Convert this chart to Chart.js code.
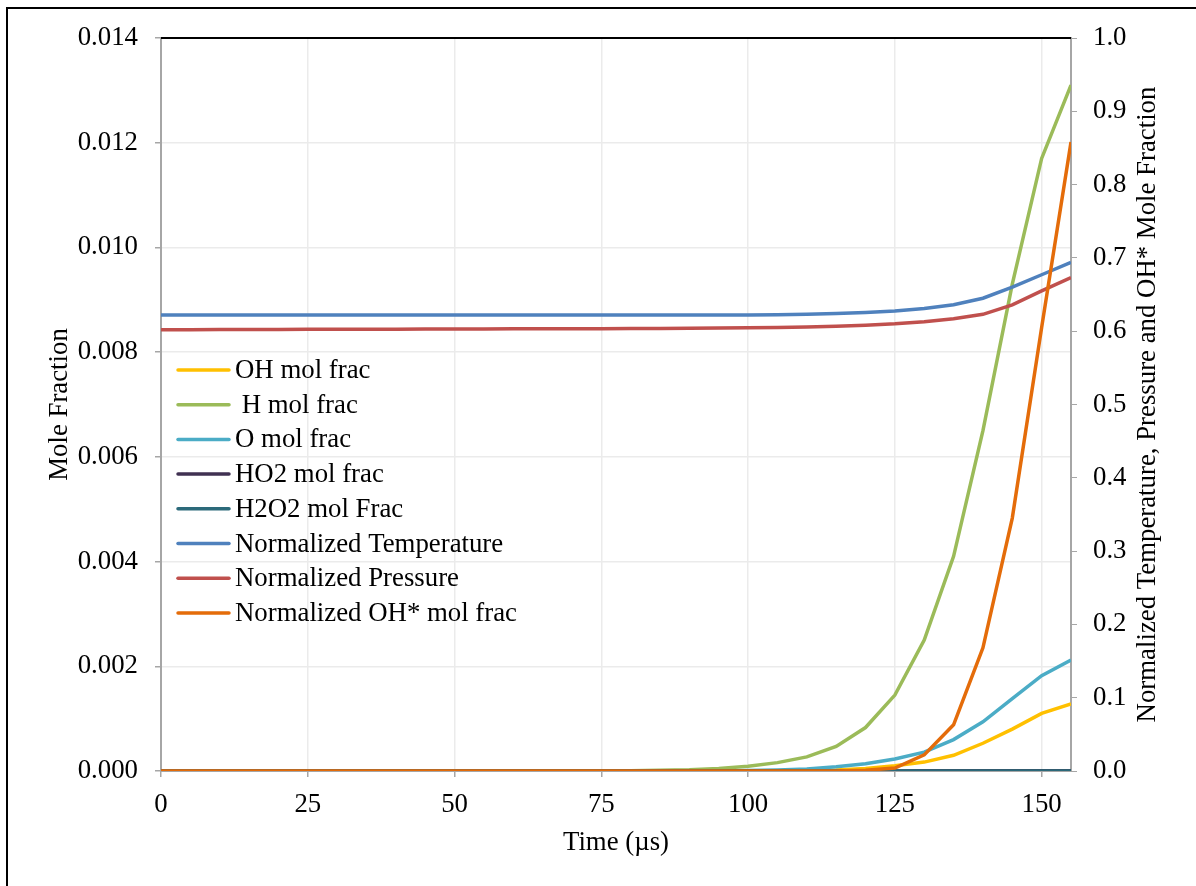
<!DOCTYPE html>
<html>
<head>
<meta charset="utf-8">
<title>Mole Fraction vs Time</title>
<script src="https://cdn.jsdelivr.net/npm/chart.js@4.4.1/dist/chart.umd.min.js"></script>
<style>
    html, body { margin: 0; padding: 0; background: #fff; }
    #grafico { display: block; }
</style>
</head>
<body>
<canvas id="grafico" width="1196" height="886"></canvas>
<script>
// Tempo (µs)
const times = [0, 5, 10, 15, 20, 25, 30, 35, 40, 45, 50, 55, 60, 65, 70, 75,
               80, 85, 90, 95, 100, 105, 110, 115, 120, 125, 130, 135, 140, 145, 150, 155];

// Fracoes molares (eixo esquerdo)
const ohFrac = [0, 0, 0, 0, 0, 0, 0, 0, 0, 0, 0, 0, 0, 0, 0, 0,
                0, 0, 0, 0, 0.000002, 0.000005, 0.00001, 0.00002, 0.00005, 0.0001, 0.00017, 0.0003, 0.00053, 0.0008, 0.0011, 0.00128];
const hFrac = [0, 0, 0, 0, 0, 0, 0, 0, 0, 0, 0, 0, 0, 0, 0.000002, 0.000004,
               0.000007, 0.000013, 0.000025, 0.00005, 0.00009, 0.00016, 0.00027, 0.00047, 0.00083, 0.00145, 0.0025, 0.0041, 0.0065, 0.0093, 0.0117, 0.0131];
const oFrac = [0, 0, 0, 0, 0, 0, 0, 0, 0, 0, 0, 0, 0, 0, 0, 0,
               0, 0, 0, 0, 0.00001, 0.00002, 0.00004, 0.00008, 0.00014, 0.00023, 0.00036, 0.0006, 0.00094, 0.00138, 0.00182, 0.00212];
const ho2Frac = [0.000001, 0.000001, 0.000001, 0.000001, 0.000001, 0.000001, 0.000001, 0.000001, 0.000001, 0.000001, 0.000001, 0.000001, 0.000001, 0.000001, 0.000001, 0.000001,
                 0.000001, 0.000001, 0.000001, 0.000001, 0.000001, 0.000001, 0.000001, 0.000002, 0.000002, 0.000002, 0.000003, 0.000003, 0.000003, 0.000004, 0.000004, 0.000004];
const h2o2Frac = [0, 0, 0, 0, 0, 0, 0, 0, 0, 0, 0, 0, 0, 0, 0, 0,
                  0, 0, 0, 0, 0, 0, 0, 0, 0, 0, 0, 0, 0, 0, 0, 0];

// Valores normalizados (eixo direito)
const tempNorm = [0.622, 0.622, 0.622, 0.622, 0.622, 0.622, 0.622, 0.622, 0.622, 0.622, 0.622, 0.622, 0.622, 0.622, 0.622, 0.622,
                  0.622, 0.622, 0.622, 0.622, 0.6222, 0.6225, 0.623, 0.624, 0.6255, 0.6275, 0.631, 0.636, 0.645, 0.66, 0.677, 0.694];
const presNorm = [0.602, 0.6021, 0.6022, 0.6023, 0.6024, 0.6025, 0.6026, 0.6027, 0.6028, 0.6029, 0.603, 0.6031, 0.6032, 0.6033, 0.6034, 0.6035,
                  0.6036, 0.6038, 0.604, 0.6043, 0.6047, 0.6052, 0.6058, 0.6067, 0.608, 0.61, 0.613, 0.617, 0.623, 0.636, 0.655, 0.673];
const ohStarNorm = [0, 0, 0, 0, 0, 0, 0, 0, 0, 0, 0, 0, 0, 0, 0, 0,
                    0, 0, 0, 0, 0, 0, 0, 0, 0.001, 0.004, 0.022, 0.063, 0.168, 0.345, 0.605, 0.858];

// Ticks dos eixos
const xTicks = [0, 25, 50, 75, 100, 125, 150];
const leftTicks = [0, 0.002, 0.004, 0.006, 0.008, 0.010, 0.012, 0.014];
const rightTicks = [0, 0.1, 0.2, 0.3, 0.4, 0.5, 0.6, 0.7, 0.8, 0.9, 1.0];

const FONTE = '"Liberation Serif", "Times New Roman", serif';
const TAM = 26.8;
const CINZA_EIXO = '#a6a6a6';

function serie(label, valores, cor, eixo) {
    return {
        label: label,
        data: valores.map((v, i) => ({ x: times[i], y: v })),
        borderColor: cor,
        backgroundColor: cor,
        borderWidth: 3.5,
        pointRadius: 0,
        tension: 0,
        yAxisID: eixo
    };
}

const datasets = [
    serie('OH mol frac', ohFrac, '#FFC000', 'yEsq'),
    serie(' H mol frac', hFrac, '#9BBB59', 'yEsq'),
    serie('O mol frac', oFrac, '#4BACC6', 'yEsq'),
    serie('HO2 mol frac', ho2Frac, '#403152', 'yEsq'),
    serie('H2O2 mol Frac', h2o2Frac, '#2C6A7A', 'yEsq'),
    serie('Normalized Temperature', tempNorm, '#4F81BD', 'yDir'),
    serie('Normalized Pressure', presNorm, '#C0504D', 'yDir'),
    serie('Normalized OH* mol frac', ohStarNorm, '#E46C0A', 'yDir')
];
// ultima serie desenhada por cima
datasets.forEach((ds, i) => { ds.order = datasets.length - i; });

function fixarTicks(valores) {
    return function (scale) {
        scale.ticks = valores.map(v => ({ value: v }));
    };
}

// Moldura, titulos dos eixos e legenda dentro da area do grafico
const extras = {
    id: 'extras',
    afterDraw(chart) {
        const ctx = chart.ctx;
        const a = chart.chartArea;
        ctx.save();

        // moldura externa
        ctx.strokeStyle = '#000';
        ctx.lineWidth = 2;
        ctx.beginPath();
        ctx.moveTo(7, 886);
        ctx.lineTo(7, 8);
        ctx.lineTo(1196, 8);
        ctx.stroke();

        // borda superior da area do grafico
        ctx.beginPath();
        ctx.moveTo(a.left, a.top);
        ctx.lineTo(a.right, a.top);
        ctx.stroke();

        ctx.fillStyle = '#000';
        ctx.font = TAM + 'px ' + FONTE;
        ctx.textAlign = 'center';
        ctx.textBaseline = 'middle';

        const meioY = (a.top + a.bottom) / 2;
        ctx.save();
        ctx.translate(a.left - 101, meioY);
        ctx.rotate(-Math.PI / 2);
        ctx.fillText('Mole Fraction', 0, 0);
        ctx.restore();

        ctx.save();
        ctx.translate(a.right + 77, meioY);
        ctx.rotate(-Math.PI / 2);
        ctx.fillText('Normalized Temperature, Pressure and OH* Mole Fraction', 0, 0);
        ctx.restore();

        ctx.fillText('Time (\u00b5s)', (a.left + a.right) / 2, a.bottom + 72);

        // legenda
        ctx.textAlign = 'left';
        const x0 = a.left + 16;
        const y0 = a.top + 332;
        chart.data.datasets.forEach((ds, i) => {
            const y = y0 + i * 34.7;
            ctx.strokeStyle = ds.borderColor;
            ctx.lineWidth = 3.5;
            ctx.lineCap = 'round';
            ctx.beginPath();
            ctx.moveTo(x0 + 1, y);
            ctx.lineTo(x0 + 52, y);
            ctx.stroke();
            ctx.fillText(ds.label, x0 + 58, y + 1);
        });

        ctx.restore();
    }
};

const ctx = document.getElementById('grafico').getContext('2d');
new Chart(ctx, {
    type: 'line',
    data: { datasets: datasets },
    plugins: [extras],
    options: {
        responsive: false,
        animation: false,
        devicePixelRatio: 1,
        layout: { padding: { top: 38, left: 0, right: 0, bottom: 0 } },
        plugins: {
            legend: { display: false },
            tooltip: { enabled: false }
        },
        scales: {
            x: {
                type: 'linear',
                min: 0,
                max: 155,
                afterBuildTicks: fixarTicks(xTicks),
                afterFit(scale) { scale.height = 115; },
                grid: { color: '#ebebeb', lineWidth: 1.5, tickColor: CINZA_EIXO, tickLength: 6 },
                border: { color: CINZA_EIXO, width: 2 },
                ticks: {
                    color: '#000',
                    font: { family: FONTE, size: TAM },
                    padding: 12,
                    maxRotation: 0,
                    callback: v => String(v)
                }
            },
            yEsq: {
                type: 'linear',
                position: 'left',
                min: 0,
                max: 0.014,
                afterBuildTicks: fixarTicks(leftTicks),
                afterFit(scale) { scale.width = 161; },
                grid: { color: '#ebebeb', lineWidth: 1.5, tickColor: CINZA_EIXO, tickLength: 6 },
                border: { color: CINZA_EIXO, width: 2 },
                ticks: {
                    color: '#000',
                    font: { family: FONTE, size: TAM },
                    padding: 17,
                    callback: v => v.toFixed(3)
                }
            },
            yDir: {
                type: 'linear',
                position: 'right',
                min: 0,
                max: 1.0,
                afterBuildTicks: fixarTicks(rightTicks),
                afterFit(scale) { scale.width = 125; },
                grid: { drawOnChartArea: false, tickColor: CINZA_EIXO, tickLength: 6 },
                border: { color: CINZA_EIXO, width: 2 },
                ticks: {
                    color: '#000',
                    font: { family: FONTE, size: TAM },
                    padding: 16,
                    callback: v => v.toFixed(1)
                }
            }
        }
    }
});
</script>
</body>
</html>
